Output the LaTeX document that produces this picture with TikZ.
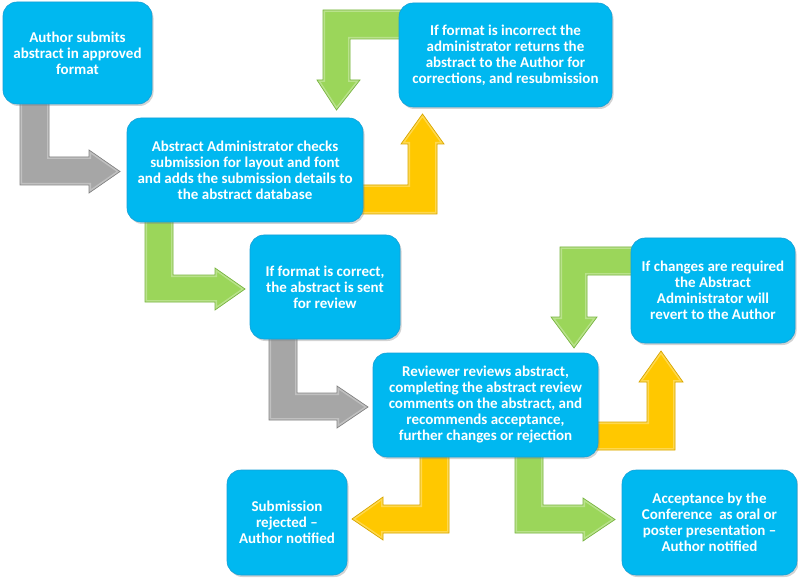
\documentclass[tikz,border=0pt]{standalone}
\usepackage{fontspec}
\setmainfont{Carlito}
\usetikzlibrary{shadows}
\definecolor{boxblue}{RGB}{0,184,240}
\definecolor{boxedge}{RGB}{20,160,215}
\definecolor{agreen}{RGB}{155,214,90}
\definecolor{agreenedge}{RGB}{120,180,65}
\definecolor{ayellow}{RGB}{255,200,0}
\definecolor{ayellowedge}{RGB}{215,165,0}
\definecolor{agray}{RGB}{166,166,166}
\definecolor{agrayedge}{RGB}{130,130,130}
\tikzset{
  flowbox/.style={draw=boxedge, line width=0.6pt, fill=boxblue, rounded corners=14pt,
    text=white, font=\fontsize{15}{16}\selectfont\bfseries, align=center,
    inner sep=0pt, drop shadow={opacity=0.35, shadow xshift=1.5pt, shadow yshift=-2pt}}
}
% #1 fill colour, #2 edge colour, #3 path
\newcommand\myblockarrow[3]{%
  \fill[#1] #3;
  \begin{scope}\clip #3; \draw[white, opacity=0.3, line width=4pt, line join=miter] #3; \end{scope}
  \draw[#2, line width=0.7pt, line join=miter] #3;
}
\begin{document}
\begin{tikzpicture}[x=1pt, y=-1pt]
\useasboundingbox (0,0) rectangle (798,580);
% ---- block arrows (drawn under the boxes)
\myblockarrow{agray}{agrayedge}{(20,100) -- (49,100) -- (49,157) -- (89,157) -- (89,150) -- (120,171.5) -- (89,193) -- (89,185) -- (20,185) -- cycle}
\myblockarrow{agreen}{agreenedge}{(405,10) -- (405,39) -- (350,39) -- (350,80) -- (360,80) -- (336.5,110) -- (317,80) -- (323,80) -- (323,10) -- cycle}
\myblockarrow{ayellow}{ayellowedge}{(355,185) -- (408,185) -- (408,144) -- (401,144) -- (422.5,114) -- (444,144) -- (437,144) -- (437,214) -- (355,214) -- cycle}
\myblockarrow{agreen}{agreenedge}{(145,215) -- (173,215) -- (173,275) -- (215,275) -- (215,268) -- (245,289) -- (215,310) -- (215,302) -- (145,302) -- cycle}
\myblockarrow{agray}{agrayedge}{(269,335) -- (297,335) -- (297,393) -- (337,393) -- (337,386) -- (368,407) -- (337,428) -- (337,420) -- (269,420) -- cycle}
\myblockarrow{agreen}{agreenedge}{(640,247) -- (640,275) -- (587,275) -- (587,317) -- (597,317) -- (574,348) -- (551,317) -- (560,317) -- (560,247) -- cycle}
\myblockarrow{ayellow}{ayellowedge}{(590,422) -- (647,422) -- (647,382) -- (639,382) -- (661,351) -- (683,382) -- (675,382) -- (675,450) -- (590,450) -- cycle}
\myblockarrow{ayellow}{ayellowedge}{(420,450) -- (449,450) -- (449,533) -- (383,533) -- (383,540) -- (352,519) -- (383,497) -- (383,505) -- (420,505) -- cycle}
\myblockarrow{agreen}{agreenedge}{(515,450) -- (543,450) -- (543,505) -- (583,505) -- (583,498) -- (615,519.5) -- (583,541) -- (583,533) -- (515,533) -- cycle}
% ---- boxes
\node[flowbox, minimum width=149pt, minimum height=102pt] (author) at (77.5,53)
  {Author submits\\abstract in approved\\format};
\node[flowbox, minimum width=236pt, minimum height=104pt] (admin) at (245,170)
  {Abstract Administrator checks\\submission for layout and font\\and adds the submission details to\\the abstract database};
\node[flowbox, minimum width=213pt, minimum height=104pt] (incorrect) at (505.5,55)
  {If format is incorrect the\\administrator returns the\\abstract to the Author for\\corrections, and resubmission};
\node[flowbox, minimum width=150pt, minimum height=104pt] (correct) at (325,287)
  {If format is correct,\\the abstract is sent\\for review};
\node[flowbox, minimum width=225pt, minimum height=104pt] (reviewer) at (485.5,405)
  {Reviewer reviews abstract,\\completing the abstract review\\comments on the abstract, and\\recommends acceptance,\\further changes or rejection};
\node[flowbox, minimum width=164pt, minimum height=105pt] (changes) at (713,290.5)
  {If changes are required\\the Abstract\\Administrator will\\revert to the Author};
\node[flowbox, minimum width=120pt, minimum height=105pt] (rejected) at (287,522.5)
  {Submission\\rejected --\\Author notified};
\node[flowbox, minimum width=175pt, minimum height=105pt] (accepted) at (709.5,522.5)
  {Acceptance by the\\Conference\ \ as oral or\\poster presentation --\\Author notified};
\end{tikzpicture}
\end{document}
